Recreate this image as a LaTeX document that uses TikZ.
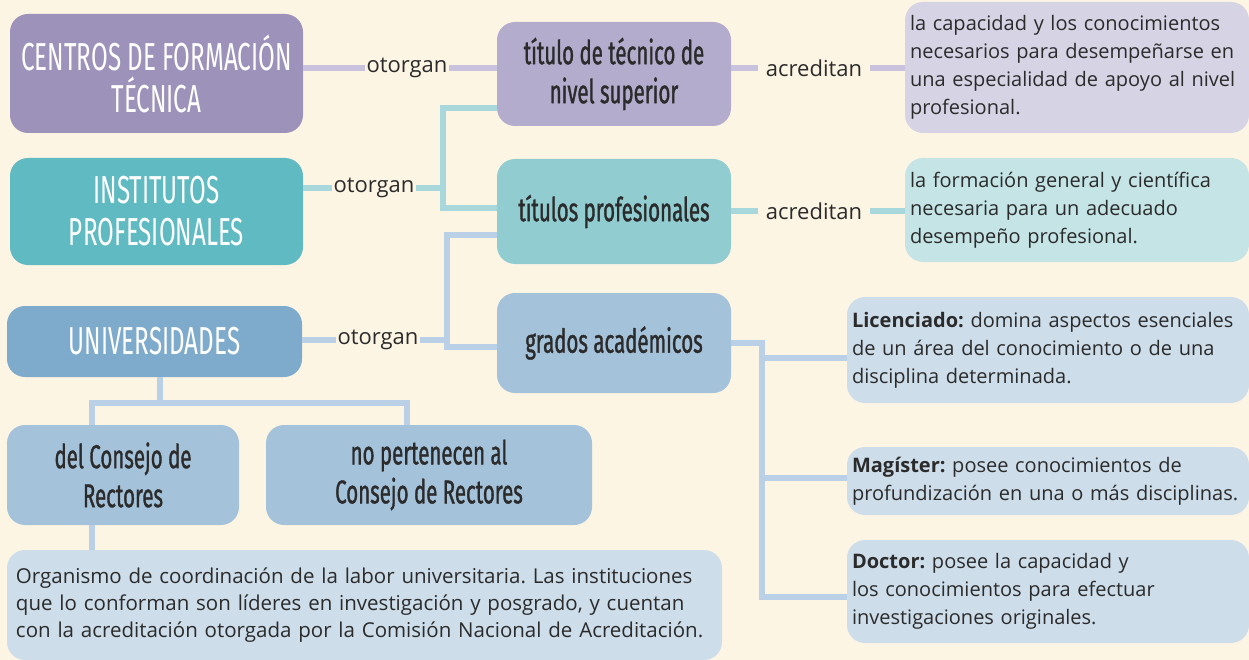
\documentclass[tikz,border=0pt]{standalone}
\usepackage{fontspec}
\setmainfont{Open Sans}
\newfontfamily\headfont[FakeStretch=0.62]{Fira Sans}
\newfontfamily\headdark[FakeStretch=0.62, FakeBold=1]{Fira Sans}
\frenchspacing
\definecolor{bg}{HTML}{FDF5E4}
\definecolor{ink}{HTML}{2B2B2B}
\definecolor{cftpurple}{HTML}{9D93BA}
\definecolor{ipteal}{HTML}{5FBAC2}
\definecolor{univblue}{HTML}{7EABCB}
\definecolor{ttlav}{HTML}{B4ACCC}
\definecolor{tpteal}{HTML}{90CCD0}
\definecolor{gablue}{HTML}{A4C2DA}
\definecolor{notelav}{HTML}{D6D3E5}
\definecolor{noteteal}{HTML}{C5E4E6}
\definecolor{noteblue}{HTML}{CDDDEA}
\definecolor{lavline}{HTML}{C8C2DC}
\definecolor{tealline}{HTML}{A8D8DC}
\definecolor{blueline}{HTML}{B9D0E6}
\begin{document}
\begin{tikzpicture}[x=1pt, y=-1pt,
    box/.style={rectangle, rounded corners=18pt, align=center, inner sep=5pt},
    head/.style={box, text=white, font=\headfont\fontsize{39}{42}\selectfont},
    item/.style={box, text=ink, font=\headdark\fontsize{33}{39}\selectfont,
                 minimum width=234pt},
    note/.style={box, text=ink, align=left, inner xsep=5pt,
                 font=\fontsize{20}{28}\selectfont},
    lbl/.style={text=ink, inner sep=1pt, font=\fontsize{22}{24}\selectfont},
    link/.style={line width=6pt}]
    \useasboundingbox (0,0) rectangle (1249,660);
    \fill[bg] (0,0) rectangle (1249,660);
    % left column
    \node[head, fill=cftpurple, minimum width=293pt, minimum height=119pt] (cft)  at (156.5,73.5) {CENTROS DE FORMACIÓN\\TÉCNICA};
    \node[head, fill=ipteal,    minimum width=293pt, minimum height=107pt] (ip)   at (156.5,211.5) {INSTITUTOS\\PROFESIONALES};
    \node[head, fill=univblue,  minimum width=295pt, minimum height=71pt]  (univ) at (154.5,341.5) {UNIVERSIDADES};
    % middle column
    \node[item, fill=ttlav,  minimum height=104pt] (tt) at (614,74)    {título de técnico de\\nivel superior};
    \node[item, fill=tpteal, minimum height=105pt] (tp) at (614,211.5) {títulos profesionales};
    \node[item, fill=gablue, minimum height=100pt] (ga) at (614,343)   {grados académicos};
    % right column
    \node[note, fill=notelav,  minimum height=131pt, text width=334pt] (d1)  at (1077,67.5) {la capacidad y los conocimientos\\necesarios para desempeñarse en\\una especialidad de apoyo al nivel\\profesional.};
    \node[note, fill=noteteal, minimum height=104pt, text width=334pt] (d2)  at (1077,210)  {la formación general y científica\\necesaria para un adecuado\\desempeño profesional.};
    \node[note, fill=noteblue, minimum height=106pt, text width=392pt] (lic) at (1048,350)  {\textbf{Licenciado:} domina aspectos esenciales\\de un área del conocimiento o de una\\disciplina determinada.};
    \node[note, fill=noteblue, minimum height=68pt,  text width=392pt] (mag) at (1048,481)  {\textbf{Magíster:} posee conocimientos de\\profundización en una o más disciplinas.};
    \node[note, fill=noteblue, minimum height=103pt, text width=392pt] (doc) at (1048,591.5) {\textbf{Doctor:} posee la capacidad y\\los conocimientos para efectuar\\investigaciones originales.};
    % universities
    \node[item, fill=gablue, minimum width=232pt, minimum height=100pt] (dcr)   at (123,475) {del Consejo de\\Rectores};
    \node[item, fill=gablue, minimum width=326pt, minimum height=100pt] (noper) at (429,475) {no pertenecen al\\Consejo de Rectores};
    \node[note, fill=noteblue, minimum height=110pt, text width=697pt, inner xsep=9pt,
          font=\fontsize{20.5}{27}\selectfont] (org) at (364.5,605) {Organismo de coordinación de la labor universitaria. Las instituciones\\que lo conforman son líderes en investigación y posgrado, y cuentan\\con la acreditación otorgada por la Comisión Nacional de Acreditación.};
    % labels
    \node[lbl] (otg1) at (407,68)  {otorgan};
    \node[lbl] (otg2) at (374,188) {otorgan};
    \node[lbl] (otg3) at (378,340) {otorgan};
    \node[lbl, inner xsep=8pt] (acr1) at (814,68)  {acreditan};
    \node[lbl, inner xsep=8pt] (acr2) at (814,211) {acreditan};
    % bends
    \coordinate (ipj) at (443,188);
    \coordinate (ta)  at (443,108);
    \coordinate (tb)  at (443,208);
    \coordinate (uj)  at (447,340);
    \coordinate (ua)  at (447,235);
    \coordinate (ub)  at (447,347);
    \coordinate (g0)  at (762,343);
    \coordinate (gl)  at (762,358);
    \coordinate (gm)  at (762,478);
    \coordinate (g3)  at (762,597);
    \coordinate (ut)  at (160,403);
    \coordinate (ul)  at (92,403);
    \coordinate (ur)  at (407,403);
    % connectors
    \draw[link, lavline]  (cft.east |- otg1) -- (otg1) -- (tt.west |- otg1);
    \draw[link, lavline]  (tt.east |- acr1) -- (acr1) -- (d1.west |- acr1);
    \draw[link, tealline] (ip.east |- otg2) -- (otg2) -- (ipj);
    \draw[link, tealline] (tt.west |- ta) -- (ta) -- (tb) -- (tp.west |- tb);
    \draw[link, tealline] (tp.east |- acr2) -- (acr2) -- (d2.west |- acr2);
    \draw[link, blueline] (univ.east |- otg3) -- (otg3) -- (uj);
    \draw[link, blueline] (tp.west |- ua) -- (ua) -- (ub) -- (ga.west |- ub);
    \draw[link, blueline] (ga.east |- g0) -- (g0) -- (g3) -- (doc.west |- g3);
    \foreach \a/\b in {gl/lic, gm/mag}
        \draw[link, blueline] (\a) -- (\b.west |- \a);
    \draw[link, blueline] (univ.south -| ut) -- (ut);
    \draw[link, blueline] (dcr.north -| ul) -- (ul) -- (ur) -- (noper.north -| ur);
    \draw[link, blueline] (dcr.south -| ul) -- (org.north -| ul);
\end{tikzpicture}
\end{document}
